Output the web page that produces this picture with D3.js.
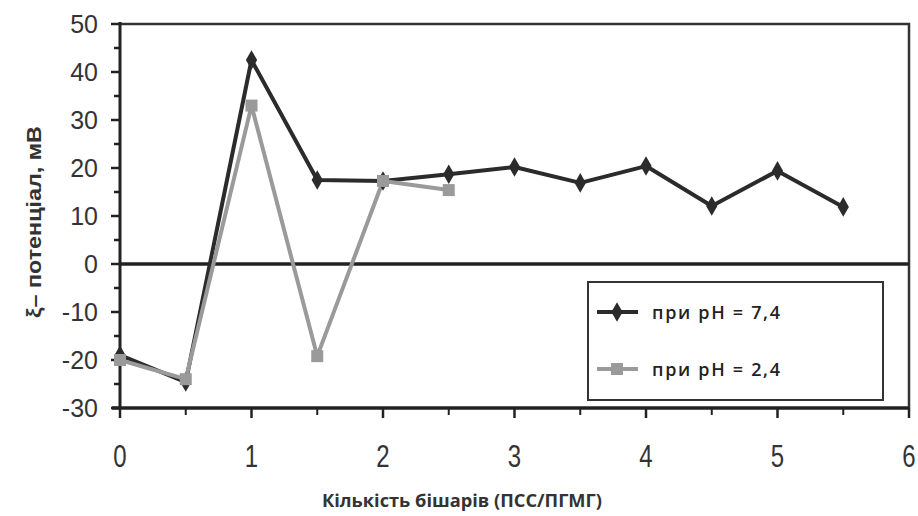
<!DOCTYPE html>
<html>
<head>
<meta charset="utf-8">
<script src="https://cdn.jsdelivr.net/npm/d3@7"></script>
<style>
  body { margin: 0; background: #fff; }
  svg { display: block; }
</style>
</head>
<body>
<div id="chart"></div>
<script>
var xsPh74 = [0, 0.5, 1, 1.5, 2, 2.5, 3, 3.5, 4, 4.5, 5, 5.5];
var ysPh74 = [-19, -24.6, 42.5, 17.5, 17.3, 18.7, 20.2, 16.9, 20.4, 12.1, 19.4, 11.9];
var xsPh24 = [0, 0.5, 1, 1.5, 2, 2.5];
var ysPh24 = [-20, -24, 33, -19.2, 17.3, 15.4];
var xTicks = [0, 1, 2, 3, 4, 5, 6];
var yTicks = [-30, -20, -10, 0, 10, 20, 30, 40, 50];
var legendLabels = ["при pH = 7,4", "при pH = 2,4"];

var w = 918, h = 516;
var svg = d3.select("div#chart").append("svg").attr("width", w).attr("height", h);

var x = d3.scaleLinear().domain([0, 6]).range([120, 909]);
var y = d3.scaleLinear().domain([-30, 50]).range([408, 24]);

// frame top + right
svg.append("path")
  .attr("d", "M" + x(0) + "," + y(50) + "H" + x(6) + "V" + y(-30))
  .attr("fill", "none").attr("stroke", "#333").attr("stroke-width", 2.5);

// y axis
var yAxis = svg.append("g").attr("transform", "translate(" + x(0) + ",0)");
yAxis.append("line").attr("y1", y(-30)).attr("y2", y(50) - 2)
  .attr("stroke", "#222").attr("stroke-width", 3);
yAxis.selectAll(".ymin").data(d3.range(-25, 50, 10)).enter().append("line")
  .attr("x1", -6).attr("x2", 0).attr("y1", d => y(d)).attr("y2", d => y(d))
  .attr("stroke", "#222").attr("stroke-width", 2.5);
yAxis.selectAll(".ymaj").data(yTicks).enter().append("line")
  .attr("x1", -9).attr("x2", 0).attr("y1", d => y(d)).attr("y2", d => y(d))
  .attr("stroke", "#222").attr("stroke-width", 2.5);
yAxis.selectAll("text").data(yTicks).enter().append("text")
  .attr("x", -22).attr("y", d => y(d) + 9)
  .attr("text-anchor", "end")
  .style("font-family", "Liberation Sans, Arial, sans-serif").style("font-size", "25px").style("fill", "#333")
  .text(d => d);

// x axis
var xAxis = svg.append("g").attr("transform", "translate(0," + y(-30) + ")");
xAxis.append("line").attr("x1", x(0) - 8).attr("x2", x(6))
  .attr("stroke", "#222").attr("stroke-width", 3.5);
xAxis.selectAll(".xmin").data(d3.range(0.5, 6, 1)).enter().append("line")
  .attr("x1", d => x(d)).attr("x2", d => x(d)).attr("y1", 0).attr("y2", 7)
  .attr("stroke", "#222").attr("stroke-width", 2);
xAxis.selectAll(".xmaj").data(xTicks).enter().append("line")
  .attr("x1", d => x(d)).attr("x2", d => x(d)).attr("y1", 0).attr("y2", 10)
  .attr("stroke", "#222").attr("stroke-width", 2.5);
xAxis.selectAll("text").data(xTicks).enter().append("text")
  .attr("transform", d => "translate(" + x(d) + ",59) scale(0.75,1)")
  .attr("text-anchor", "middle")
  .style("font-family", "Liberation Sans, Arial, sans-serif").style("font-size", "32px").style("fill", "#333")
  .text(d => d);

// zero line
svg.append("line").attr("x1", x(0)).attr("x2", x(6)).attr("y1", y(0)).attr("y2", y(0))
  .attr("stroke", "#222").attr("stroke-width", 3.5);

// axis titles
svg.append("text").attr("x", 462).attr("y", 507).attr("text-anchor", "middle")
  .style("font-family", "Open Sans, sans-serif").style("font-size", "17px").style("font-weight", "bold")
  .style("fill", "#333").attr("textLength", 280).attr("lengthAdjust", "spacingAndGlyphs")
  .text("Кількість бішарів (ПСС/ПГМГ)");
svg.append("text").attr("transform", "translate(41,222) rotate(-90)").attr("text-anchor", "middle")
  .style("font-family", "Liberation Sans, Arial, sans-serif").style("font-size", "20px").style("font-weight", "bold")
  .style("fill", "#333").attr("textLength", 192).attr("lengthAdjust", "spacingAndGlyphs")
  .text("ξ– потенціал, мВ");

var line = d3.line().x(d => x(d[0])).y(d => y(d[1]));
var gray = d3.zip(xsPh24, ysPh24);
var dark = d3.zip(xsPh74, ysPh74);

svg.append("path").datum(dark).attr("d", line).attr("fill", "none")
  .attr("stroke", "#2b2b2b").attr("stroke-width", 4).attr("stroke-linejoin", "round");
svg.append("path").datum(gray).attr("d", line).attr("fill", "none")
  .attr("stroke", "#9a9a9a").attr("stroke-width", 4).attr("stroke-linejoin", "round");

var diamond = d3.symbol().type(d3.symbolDiamond).size(110);
svg.selectAll(".dk").data(dark).enter().append("path")
  .attr("d", diamond)
  .attr("transform", d => "translate(" + x(d[0]) + "," + y(d[1]) + ")")
  .attr("fill", "#2b2b2b");
svg.selectAll(".gr").data(gray).enter().append("rect")
  .attr("x", d => x(d[0]) - 6).attr("y", d => y(d[1]) - 6)
  .attr("width", 12).attr("height", 12).attr("fill", "#9a9a9a");

// legend
var lg = svg.append("g");
lg.append("rect").attr("x", 588).attr("y", 282).attr("width", 295).attr("height", 118)
  .attr("fill", "#fff").attr("stroke", "#333").attr("stroke-width", 2);
var colors = ["#2b2b2b", "#9a9a9a"];
legendLabels.forEach(function (t, i) {
  var ly = 312 + i * 57;
  lg.append("line").attr("x1", 597).attr("x2", 638).attr("y1", ly).attr("y2", ly)
    .attr("stroke", colors[i]).attr("stroke-width", 4);
  if (i == 0) {
    lg.append("path").attr("d", diamond).attr("transform", "translate(617," + ly + ")").attr("fill", colors[i]);
  } else {
    lg.append("rect").attr("x", 611).attr("y", ly - 6).attr("width", 12).attr("height", 12).attr("fill", colors[i]);
  }
  lg.append("text").attr("x", 652).attr("y", ly + 7)
    .style("font-family", "Open Sans, sans-serif").style("font-size", "18px").style("font-weight", "600")
    .style("fill", "#222").attr("textLength", 128).attr("lengthAdjust", "spacing")
    .text(t);
});
</script>
</body>
</html>
